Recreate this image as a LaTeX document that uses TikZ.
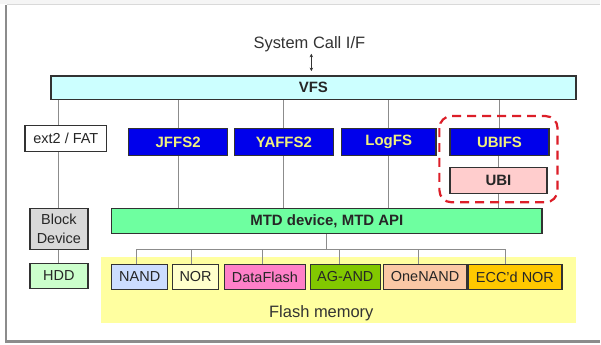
\documentclass[tikz,border=0pt]{standalone}
\usepackage{fontspec}
\setmainfont{Liberation Sans}
\usepackage{tikz}
\usetikzlibrary{positioning,arrows.meta}
\tikzstyle{stack} = [x = 1pt, y = -1pt]
\definecolor{lineColor}{RGB}{140,140,140}
\definecolor{borderColor}{RGB}{50,50,50}
\definecolor{vfsColor}{RGB}{204,255,255}
\definecolor{fsColor}{RGB}{0,0,235}
\definecolor{fsText}{RGB}{240,240,125}
\definecolor{ubiColor}{RGB}{255,205,205}
\definecolor{mtdColor}{RGB}{110,255,160}
\definecolor{blockColor}{RGB}{217,217,217}
\definecolor{hddColor}{RGB}{204,255,204}
\definecolor{nandColor}{RGB}{204,221,255}
\definecolor{norColor}{RGB}{255,255,204}
\definecolor{dataFlashColor}{RGB}{255,128,200}
\definecolor{agAndColor}{RGB}{130,200,0}
\definecolor{oneNandColor}{RGB}{250,200,165}
\definecolor{eccNorColor}{RGB}{255,200,0}
\definecolor{flashColor}{RGB}{255,255,160}
\definecolor{groupColor}{RGB}{220,30,40}
\tikzstyle{boxStyle} = [draw=borderColor, line width=1.4pt, inner sep=0pt, align=center, text=black!85, font=\fontsize{14.5}{19}\selectfont]
\tikzstyle{boldBox} = [boxStyle, font=\fontsize{15}{17}\selectfont\bfseries]
\tikzstyle{fsBox} = [boldBox, fill=fsColor, text=fsText]
\tikzstyle{connLine} = [color=lineColor, line width=0.9pt]
\tikzstyle{groupLine} = [color=groupColor, line width=2.2pt, dash pattern=on 9pt off 6pt, rounded corners=12pt]
\tikzstyle{bigText} = [font=\fontsize{16.5}{18}\selectfont, text=black!80, inner sep=1pt]
\newcommand{\layerBox}[7]{
  \pgfmathsetmacro{\boxW}{#5 - #3}
  \pgfmathsetmacro{\boxH}{#6 - #4}
  \node [#2, minimum width=\boxW pt, minimum height=\boxH pt] (#1) at ({(#3 + #5) / 2}, {(#4 + #6) / 2}) {#7};
}
\begin{document}
\begin{tikzpicture}[stack]
  % panel
  \fill [white] (0,0) rectangle (601,345);
  \fill [black!4] (0,0) rectangle (601,4);
  \draw [black!15, line width=1pt] (7,5) -- (601,5);
  \draw [black!45, line width=2.5pt] (6,5) -- (6,342) -- (601,342);
  \useasboundingbox (0,0) rectangle (601,345);
  \fill [flashColor] (101,258) rectangle (577,324);

  \node [bigText] (sysCall) at (310,44) {System Call I/F};
  \layerBox{vfs}{boldBox, fill=vfsColor}{51}{76}{577}{100}{VFS}
  \layerBox{extFat}{boxStyle, fill=white}{25}{126}{107}{152}{ext2 / FAT}
  \layerBox{jffs}{fsBox}{129}{129}{228}{156}{JFFS2}
  \layerBox{yaffs}{fsBox}{235}{129}{334}{156}{YAFFS2}
  \layerBox{logfs}{fsBox}{342}{129}{437}{156}{LogFS}
  \layerBox{ubifs}{fsBox}{451}{129}{550}{156}{UBIFS}
  \layerBox{ubi}{boldBox, fill=ubiColor}{451}{168}{548}{194}{UBI}
  \layerBox{blockDev}{boxStyle, fill=blockColor}{30}{209}{88}{250}{Block\\Device}
  \layerBox{hdd}{boxStyle, fill=hddColor}{30}{264}{88}{289}{HDD}
  \layerBox{mtd}{boldBox, fill=mtdColor}{112}{209}{543}{234}{MTD device, MTD API}
  \layerBox{nand}{boxStyle, fill=nandColor}{112}{265}{168}{290}{NAND}
  \layerBox{nor}{boxStyle, fill=norColor}{173}{265}{219}{290}{NOR}
  \layerBox{dataFlash}{boxStyle, fill=dataFlashColor}{225}{265}{306}{290}{DataFlash}
  \layerBox{agAnd}{boxStyle, fill=agAndColor}{311}{265}{381}{290}{AG-AND}
  \layerBox{oneNand}{boxStyle, fill=oneNandColor}{384}{265}{468}{290}{OneNAND}
  \layerBox{eccNor}{boxStyle, fill=eccNorColor}{469}{265}{563}{290}{ECC'd NOR}
  \node [bigText] (flashLabel) at (322,314) {Flash memory};

  \draw [color=black!80, line width=0.8pt, {Stealth[length=3.5pt,width=3.5pt]}-{Stealth[length=3.5pt,width=3.5pt]}, shorten <=1pt, shorten >=4pt] ([xshift=2pt]sysCall.south) -- ([xshift=2pt]sysCall.south |- vfs.north);
  \foreach \fs in {jffs, yaffs, logfs, ubifs}
    \draw [connLine] (\fs.north |- vfs.south) -- (\fs.north);
  \foreach \fs in {jffs, yaffs, logfs, ubi}
    \draw [connLine] (\fs.south) -- (\fs.south |- mtd.north);
  \draw [connLine] (ubi.north |- ubifs.south) -- (ubi.north);
  \draw [connLine] (blockDev.north |- vfs.south) -- (blockDev.north |- extFat.north);
  \draw [connLine] (blockDev.north |- extFat.south) -- (blockDev.north);
  \draw [connLine] (blockDev) -- (hdd);

  \coordinate (busLevel) at (0,250);
  \draw [connLine] (mtd.south) -- (mtd.south |- busLevel);
  \draw [connLine] ([xshift=-3pt]nand.north |- busLevel) -- ([xshift=-10pt]eccNor.north |- busLevel);
  \foreach \b/\dx in {nand/-3, nor/-4, dataFlash/-3, agAnd/-6, oneNand/-7, eccNor/-10}
    \draw [connLine] ([xshift=\dx pt]\b.north |- busLevel) -- ([xshift=\dx pt]\b.north);

  \draw [groupLine] ([xshift=-10pt, yshift=12pt]ubifs.north west) rectangle ([xshift=10pt, yshift=-8pt]ubi.south east);
\end{tikzpicture}
\end{document}
